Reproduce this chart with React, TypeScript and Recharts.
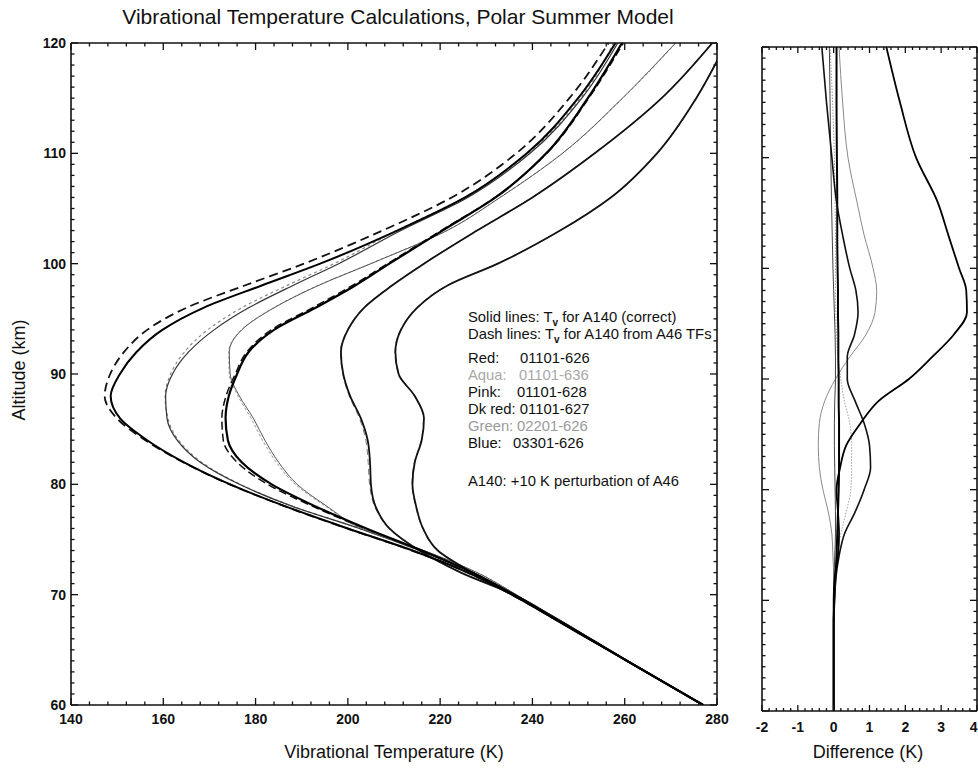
import React from 'react';
import { LineChart, Line, XAxis, YAxis } from 'recharts';

// altitude grid (km) shared by every profile
const altitudes = [60, 64, 68, 70, 72, 74, 76, 78, 80, 82, 84, 86, 88, 90, 92, 94, 96, 98, 100, 103, 106, 110, 115, 120];

// vibrational temperature (K), solid = A140 correct, dash = A140 from A46 TFs
const redSolid = [277, 260.5, 244, 235.5, 226, 214, 200, 186.5, 174.5, 164.5, 156.5, 150.6, 148.6, 150.6, 154.2, 159.8, 168.7, 181.2, 194, 210.7, 225.4, 238.8, 249.9, 258];
const redDash = [277, 260.5, 244, 235.5, 226, 213.9, 199.8, 186.4, 174.4, 164.3, 156.1, 149.9, 147.3, 148.5, 151.5, 156.5, 165, 177.5, 190.5, 207.5, 222.5, 236.5, 248, 256.5];
const aquaSolid = [277, 260.5, 244, 236, 227, 215.5, 202.5, 188, 176.5, 168, 163, 160.8, 160.5, 162, 165.5, 171, 178.5, 188, 198, 211.5, 226, 239.5, 250.7, 258.5];
const aquaDash = [277, 260.5, 244, 236, 227, 215.5, 202.5, 188.1, 176.7, 168.3, 163.3, 161, 160.4, 161.6, 164.6, 169.6, 177, 186.7, 197, 210.6, 225.3, 239, 250.4, 257.6];
const pinkSolid = [277, 260.5, 244, 236.5, 228, 216.5, 203, 195.5, 189, 185, 182, 179.5, 176.5, 174.5, 174.3, 177, 184, 193.5, 205, 221.5, 233, 246.5, 259.5, 271];
const pinkDash = [277, 260.5, 244, 236.5, 228, 216.4, 202.8, 195.2, 188.6, 184.5, 181.5, 179, 176.2, 174.3, 174.2, 176.9, 183.9, 193.4, 204.9, 221.4, 232.9, 246.5, 259.6, 271.1];
const dkRedSolid = [277, 260.5, 244, 236, 227, 216, 204, 193, 183.5, 177, 174, 173.5, 174.2, 176, 178.5, 184, 193, 201.5, 209, 220.5, 232, 243, 252, 259.4];
const dkRedDash = [277, 260.5, 244, 236, 226.9, 215.9, 203.7, 192.4, 182.6, 176, 173, 172.7, 173.6, 175.6, 178.1, 183.4, 192.3, 200.9, 208.6, 220.2, 231.9, 243.1, 252.2, 259.7];
const greenSolid = [277, 260.5, 244.5, 236, 224.5, 215.5, 209, 206, 205, 204.8, 204.3, 202.8, 200.5, 199, 198.5, 200, 203.5, 209.5, 216.5, 228, 240, 253.5, 268, 279];
const greenDash = [277, 260.5, 244.5, 236, 224.4, 215.4, 208.9, 205.8, 204.7, 204.4, 203.9, 202.5, 200.3, 198.9, 198.4, 199.9, 203.4, 209.4, 216.4, 227.9, 239.9, 253.4, 267.9, 278.9];
const blueSolid = [277, 260.5, 244.5, 236, 227, 219.5, 216.3, 214.8, 214, 214.5, 216, 216.5, 214.5, 211, 210.3, 211.5, 215, 221.5, 232.5, 246, 257, 267, 275.5, 282];
const blueDash = [277, 260.5, 244.5, 236, 227, 219.4, 216.2, 214.7, 213.9, 214.4, 215.9, 216.4, 214.4, 210.9, 210.2, 211.4, 214.9, 221.4, 232.4, 246, 257, 267, 275.5, 282];

// difference (K), solid minus dash
const diffRed = [0, 0, 0, 0, 0.03, 0.12, 0.15, 0.12, 0.08, 0.18, 0.35, 0.75, 1.25, 2.1, 2.75, 3.35, 3.72, 3.7, 3.5, 3.2, 2.9, 2.3, 1.85, 1.47];
const diffDkRed = [0, 0, 0, 0.02, 0.06, 0.15, 0.3, 0.6, 0.85, 1.03, 1.0, 0.85, 0.6, 0.38, 0.38, 0.58, 0.68, 0.62, 0.45, 0.25, 0.08, -0.05, -0.2, -0.33];
const diffAqua = [0, 0, 0, 0, 0, -0.02, -0.05, -0.15, -0.3, -0.4, -0.43, -0.4, -0.25, 0.05, 0.45, 0.9, 1.15, 1.2, 1.1, 0.85, 0.65, 0.4, 0.25, 0.15];
const diffGreen = [0, 0, 0, 0.02, 0.05, 0.08, 0.1, 0.12, 0.14, 0.15, 0.15, 0.15, 0.14, 0.14, 0.13, 0.13, 0.12, 0.12, 0.11, 0.1, 0.1, 0.09, 0.08, 0.08];
const diffPink = [0, 0, 0, 0, 0.02, 0.08, 0.2, 0.35, 0.48, 0.5, 0.5, 0.45, 0.3, 0.2, 0.12, 0.08, 0.06, 0.05, 0.05, 0.05, 0.04, 0.02, -0.03, -0.1];
const diffBlue = [0, 0, 0, 0, 0.01, 0.03, 0.05, 0.05, 0.04, 0.03, 0.02, 0.02, 0.03, 0.05, 0.05, 0.04, 0.02, 0, -0.02, -0.04, -0.06, -0.08, -0.1, -0.12];

// tick labels
const tempLabels = [140, 160, 180, 200, 220, 240, 260, 280];
const altLabels = [60, 70, 80, 90, 100, 110, 120];
const diffLabels = [-2, -1, 0, 1, 2, 3, 4];

const range = (a: number, b: number, step: number) => {
  const out: number[] = [];
  for (let v = a; v <= b + 1e-9; v += step) out.push(Math.round(v * 100) / 100);
  return out;
};
const tempTicks = range(140, 280, 4);
const altTicks = range(60, 120, 1);
const diffTicks = range(-2, 4, 0.2);

const leftData = altitudes.map((alt, i) => ({
  alt,
  redSolid: redSolid[i], redDash: redDash[i],
  aquaSolid: aquaSolid[i], aquaDash: aquaDash[i],
  pinkSolid: pinkSolid[i], pinkDash: pinkDash[i],
  dkRedSolid: dkRedSolid[i], dkRedDash: dkRedDash[i],
  greenSolid: greenSolid[i], greenDash: greenDash[i],
  blueSolid: blueSolid[i], blueDash: blueDash[i],
}));

const rightData = altitudes.map((alt, i) => ({
  alt,
  diffRed: diffRed[i], diffDkRed: diffDkRed[i], diffAqua: diffAqua[i],
  diffGreen: diffGreen[i], diffPink: diffPink[i], diffBlue: diffBlue[i],
}));

const FONT = '"Liberation Sans", Arial, Helvetica, sans-serif';
const INK = '#111';

type Side = 'bottom' | 'top' | 'left' | 'right';

// inward tick marks, longer on the labelled values
function makeTick(side: Side, majors: number[], majorLen: number, minorLen: number, labels: boolean, labelGap: number, edgeValue?: number) {
  return (props: any) => {
    const x = Number(props.x);
    const y = Number(props.y);
    const v = props.payload.value;
    const isMajor = majors.some((m) => Math.abs(m - v) < 1e-6);
    const len = isMajor ? majorLen : minorLen;
    let x2 = x;
    let y2 = y;
    if (side === 'bottom') y2 = y - len;
    else if (side === 'top') y2 = y + len;
    else if (side === 'left') x2 = x + len;
    else x2 = x - len;
    const atEdge = edgeValue !== undefined && Math.abs(v - edgeValue) < 1e-6;
    return (
      <g>
        <line x1={x} y1={y} x2={x2} y2={y2} stroke={INK} strokeWidth={1.3} />
        {labels && isMajor && side === 'bottom' && (
          <text x={atEdge ? x + 0.5 : x} y={y + labelGap} textAnchor={atEdge ? 'end' : 'middle'} fill={INK}
            fontFamily={FONT} fontSize={14} fontWeight="bold">{v}</text>
        )}
        {labels && isMajor && side === 'left' && (
          <text x={x - labelGap} y={y + 5} textAnchor="end" fill={INK}
            fontFamily={FONT} fontSize={14} fontWeight="bold">{v}</text>
        )}
      </g>
    );
  };
}

const axisLine = { stroke: INK, strokeWidth: 1.6 };

const solid = (key: string, color: string, width: number) => (
  <Line key={key} dataKey={key} type="monotone" stroke={color} strokeWidth={width}
    dot={false} activeDot={false} isAnimationActive={false} />
);
const dashed = (key: string, color: string, width: number, dash: string) => (
  <Line key={key} dataKey={key} type="monotone" stroke={color} strokeWidth={width}
    strokeDasharray={dash} dot={false} activeDot={false} isAnimationActive={false} />
);

export default function App() {
  return (
    <div style={{ position: 'absolute', left: 0, top: 0, width: 978, height: 772, background: '#fff', overflow: 'hidden' }}>
      <div style={{ position: 'absolute', left: 0, top: 0 }}>
        <LineChart width={730} height={772} data={leftData} layout="vertical"
          margin={{ top: 42, right: 12, bottom: 37, left: 21 }}>
          <XAxis xAxisId={0} type="number" domain={[140, 280]} allowDataOverflow ticks={tempTicks} interval={0}
            height={30} tickSize={0} tickMargin={0} tickLine={false} axisLine={axisLine}
            tick={makeTick('bottom', tempLabels, 7, 3.5, true, 19)} />
          <XAxis xAxisId="top" orientation="top" type="number" domain={[140, 280]} allowDataOverflow ticks={tempTicks}
            interval={0} height={1} tickSize={0} tickMargin={0} tickLine={false} axisLine={axisLine}
            tick={makeTick('top', tempLabels, 7, 3.5, false, 0)} />
          <YAxis yAxisId={0} type="number" dataKey="alt" domain={[60, 120]} reversed allowDataOverflow ticks={altTicks}
            interval={0} width={50} tickSize={0} tickMargin={0} tickLine={false} axisLine={axisLine}
            tick={makeTick('left', altLabels, 7, 3.5, true, 5)} />
          <YAxis yAxisId="right" orientation="right" type="number" dataKey="alt" domain={[60, 120]} reversed allowDataOverflow
            ticks={altTicks} interval={0} width={1} tickSize={0} tickMargin={0} tickLine={false} axisLine={axisLine}
            tick={makeTick('right', altLabels, 7, 3.5, false, 0)} />
          {dashed('aquaDash', '#8a8a8a', 1.2, '3 3')}
          {dashed('pinkDash', '#9a9a9a', 1, '3 2')}
          {dashed('greenDash', '#777', 1, '6 4')}
          {dashed('blueDash', '#777', 1, '6 4')}
          {dashed('dkRedDash', INK, 1.5, '8 4')}
          {dashed('redDash', INK, 1.8, '9 5')}
          {solid('aquaSolid', '#333', 1.2)}
          {solid('pinkSolid', '#555', 1)}
          {solid('greenSolid', INK, 1.8)}
          {solid('blueSolid', INK, 1.8)}
          {solid('dkRedSolid', '#000', 2.2)}
          {solid('redSolid', '#000', 2)}
        </LineChart>
      </div>
      <div style={{ position: 'absolute', left: 740, top: 0 }}>
        <LineChart width={238} height={772} data={rightData} layout="vertical"
          margin={{ top: 46, right: 0, bottom: 31, left: 21 }}>
          <XAxis xAxisId={0} type="number" domain={[-2, 4]} allowDataOverflow ticks={diffTicks} interval={0}
            height={30} tickSize={0} tickMargin={0} tickLine={false} axisLine={axisLine}
            tick={makeTick('bottom', diffLabels, 6, 3, true, 21, 4)} />
          <XAxis xAxisId="top" orientation="top" type="number" domain={[-2, 4]} allowDataOverflow ticks={diffTicks}
            interval={0} height={1} tickSize={0} tickMargin={0} tickLine={false} axisLine={axisLine}
            tick={makeTick('top', diffLabels, 6, 3, false, 0)} />
          <YAxis yAxisId={0} type="number" dataKey="alt" domain={[60, 120]} reversed allowDataOverflow ticks={altTicks}
            interval={0} width={1} tickSize={0} tickMargin={0} tickLine={false} axisLine={axisLine}
            tick={makeTick('left', altLabels, 7, 3.5, false, 0)} />
          <YAxis yAxisId="right" orientation="right" type="number" dataKey="alt" domain={[60, 120]} reversed allowDataOverflow
            ticks={altTicks} interval={0} width={1} tickSize={0} tickMargin={0} tickLine={false} axisLine={axisLine}
            tick={makeTick('right', altLabels, 7, 3.5, false, 0)} />
          {dashed('diffPink', '#a0a0a0', 1, '1.5 1.5')}
          {solid('diffAqua', '#8a8a8a', 1)}
          {solid('diffBlue', '#444', 1)}
          {solid('diffGreen', '#000', 2)}
          {solid('diffDkRed', INK, 1.6)}
          {solid('diffRed', '#000', 1.8)}
        </LineChart>
      </div>
      <svg width={978} height={772} style={{ position: 'absolute', left: 0, top: 0, pointerEvents: 'none' }}
        fontFamily={FONT} fill={INK}>
        <text x={398} y={24} textAnchor="middle" fontSize={21}>
          Vibrational Temperature Calculations, Polar Summer Model
        </text>
        <text x={394} y={758} textAnchor="middle" fontSize={18}>Vibrational Temperature (K)</text>
        <text x={868} y={758} textAnchor="middle" fontSize={18}>Difference (K)</text>
        <text transform="translate(25 370) rotate(-90)" textAnchor="middle" fontSize={18}>Altitude (km)</text>
        <g fontSize={14.8}>
          <text x={468} y={322}>
            Solid lines: T<tspan dy={4} fontSize={10} fontWeight="bold">v</tspan><tspan dy={-4}> for A140 (correct)</tspan>
          </text>
          <text x={468} y={339}>
            Dash lines: T<tspan dy={4} fontSize={10} fontWeight="bold">v</tspan><tspan dy={-4}> for A140 from A46 TFs</tspan>
          </text>
          <text x={468} y={363}>Red:</text>
          <text x={520} y={363}>01101-626</text>
          <text x={468} y={380} fill="#a8a8a8">Aqua:</text>
          <text x={519} y={380} fill="#a8a8a8">01101-636</text>
          <text x={468} y={397}>Pink:</text>
          <text x={517} y={397}>01101-628</text>
          <text x={468} y={413.5}>Dk red: 01101-627</text>
          <text x={468} y={430.5} fill="#9a9a9a">Green:</text>
          <text x={517} y={430.5} fill="#9a9a9a">02201-626</text>
          <text x={468} y={447.5}>Blue:</text>
          <text x={513} y={447.5}>03301-626</text>
          <text x={468} y={485.5}>A140: +10 K perturbation of A46</text>
        </g>
      </svg>
    </div>
  );
}
